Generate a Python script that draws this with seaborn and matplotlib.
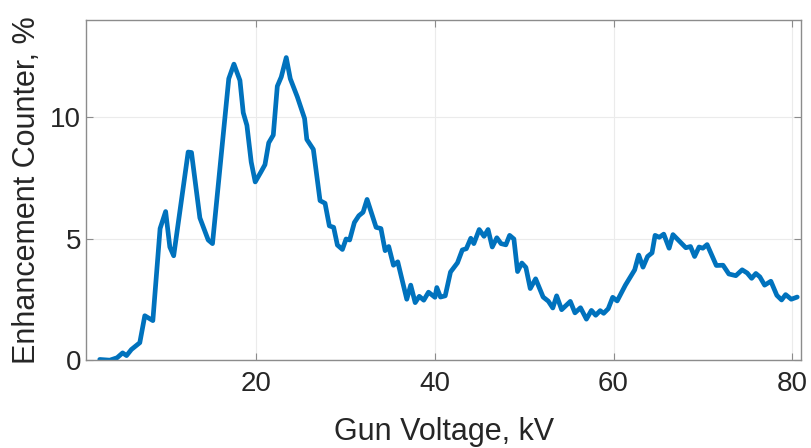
import matplotlib
matplotlib.use('Agg')
import matplotlib.pyplot as plt
import seaborn as sns
import pandas as pd

# Gun voltage (kV) and enhancement counter (%)
gun_voltage = [2.54, 3.66, 4.48, 5.10, 5.54, 6.08, 7.02, 7.58, 8.48, 9.29,
               9.91, 10.38, 10.81, 12.43, 12.80, 13.74, 14.67, 15.15, 16.97, 17.55,
               18.22, 18.59, 19.00, 19.48, 19.93, 20.57, 21.02, 21.44, 21.95, 22.40,
               22.84, 23.40, 23.85, 24.64, 25.45, 25.70, 26.43, 27.18, 27.74, 28.22,
               28.70, 29.12, 29.68, 30.09, 30.49, 31.02, 31.52, 31.99, 32.44, 33.45,
               33.99, 34.46, 34.86, 35.39, 35.87, 36.88, 37.32, 37.82, 38.28, 38.78,
               39.31, 40.03, 40.24, 40.65, 41.18, 41.77, 42.55, 43.09, 43.54, 44.04,
               44.38, 44.98, 45.52, 45.97, 46.44, 46.95, 47.42, 47.96, 48.38, 48.86,
               49.27, 49.75, 50.20, 50.69, 51.29, 52.13, 52.71, 53.21, 53.64, 54.20,
               55.17, 55.69, 56.31, 56.97, 57.53, 58.01, 58.51, 58.90, 59.41, 59.91,
               60.41, 61.33, 62.37, 62.82, 63.30, 63.81, 64.31, 64.65, 65.12, 65.62,
               66.22, 66.65, 67.67, 68.09, 68.61, 69.07, 69.57, 69.99, 70.47, 71.50,
               72.25, 72.90, 73.68, 74.39, 74.95, 75.45, 75.92, 76.37, 76.90, 77.60,
               78.27, 78.80, 79.25, 79.88, 80.55]
enhancement = [0.03, 0.00, 0.10, 0.30, 0.19, 0.44, 0.72, 1.83, 1.63, 5.42,
               6.12, 4.66, 4.30, 8.57, 8.55, 5.86, 4.95, 4.80, 11.59, 12.19,
               11.52, 10.19, 9.67, 8.16, 7.34, 7.75, 8.05, 8.95, 9.27, 11.28,
               11.66, 12.46, 11.59, 10.84, 9.95, 9.09, 8.68, 6.57, 6.46, 5.53,
               5.47, 4.74, 4.56, 4.99, 4.95, 5.67, 5.95, 6.09, 6.62, 5.47,
               5.42, 4.51, 4.68, 3.91, 4.05, 2.51, 3.09, 2.37, 2.63, 2.47,
               2.80, 2.59, 2.99, 2.60, 2.65, 3.63, 4.01, 4.54, 4.59, 5.02,
               4.80, 5.38, 5.10, 5.38, 4.66, 5.04, 4.80, 4.75, 5.14, 4.99,
               3.65, 4.00, 3.82, 2.95, 3.35, 2.60, 2.43, 2.15, 2.65, 2.08,
               2.42, 1.95, 2.16, 1.69, 2.05, 1.85, 2.04, 1.93, 2.12, 2.59,
               2.44, 3.09, 3.72, 4.33, 3.83, 4.27, 4.42, 5.14, 5.06, 5.19,
               4.61, 5.17, 4.79, 4.63, 4.68, 4.27, 4.66, 4.61, 4.76, 3.90,
               3.91, 3.55, 3.48, 3.72, 3.59, 3.37, 3.57, 3.43, 3.09, 3.25,
               2.67, 2.48, 2.70, 2.51, 2.60]

x_ticks = [20, 40, 60, 80]
y_ticks = [0, 5, 10]

sns.set_theme(style='whitegrid')
plt.rcParams['font.family'] = ['Liberation Sans', 'DejaVu Sans']

df = pd.DataFrame({'GunVoltage': gun_voltage, 'Enhancement': enhancement})

fig = plt.figure(figsize=(8.11, 4.48), dpi=100)
ax = fig.add_axes([0.106, 0.196, 0.882, 0.759])

sns.lineplot(data=df, x='GunVoltage', y='Enhancement', sort=False,
             color='#0072BD', linewidth=3.4, ax=ax)

ax.set_xlim(1, 81)
ax.set_ylim(0, 14)
ax.set_xticks(x_ticks)
ax.set_yticks(y_ticks)

text_color = '#262626'
ax.set_xlabel('Gun Voltage, kV', fontsize=22, color=text_color, labelpad=14)
ax.set_ylabel('Enhancement Counter, %', fontsize=22, color=text_color, labelpad=6)
ax.tick_params(axis='both', labelsize=20, labelcolor=text_color, color='#8c8c8c',
               direction='in', length=5, width=0.8,
               bottom=True, left=True, top=True, right=True,
               labeltop=False, labelright=False)
ax.tick_params(axis='x', pad=8)

ax.grid(True, color='#ebebeb', linewidth=0.8)
for side in ax.spines.values():
    side.set_visible(True)
    side.set_color('#8c8c8c')
    side.set_linewidth(1.0)

fig.savefig('out.png', dpi=100)
plt.close(fig)
